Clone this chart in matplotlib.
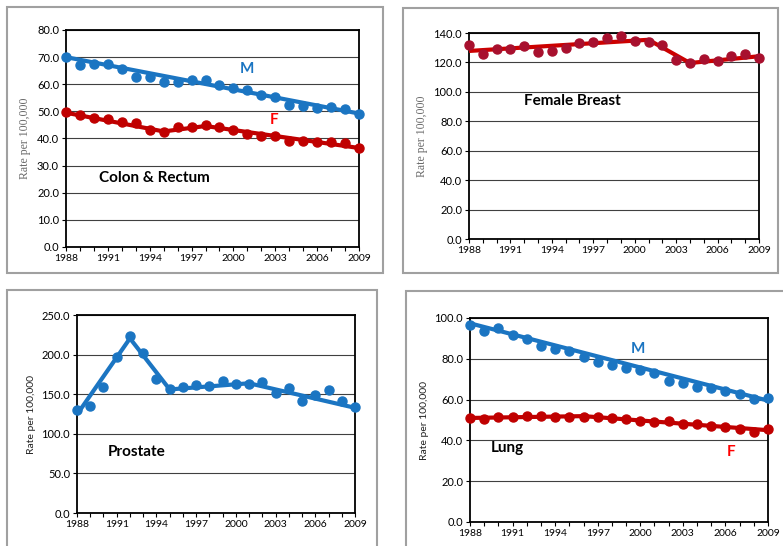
import numpy as np
import matplotlib.pyplot as plt
from matplotlib.patches import Rectangle

plt.rcParams['font.family'] = ['Lato', 'DejaVu Sans']

years = np.arange(1988, 2010)

# colon & rectum
colon_m = [70.2, 67.0, 67.5, 67.5, 65.7, 62.5, 62.8, 60.8, 61.0, 61.5, 61.5,
           59.8, 58.5, 58.0, 56.2, 55.2, 52.2, 52.0, 51.2, 51.5, 51.0, 49.0]
colon_f = [49.7, 48.8, 47.5, 47.2, 46.0, 45.8, 43.2, 42.3, 44.3, 44.1, 45.0,
           44.3, 43.0, 41.5, 41.0, 40.8, 39.2, 39.2, 38.6, 38.8, 38.5, 36.5]
colon_m_fit_x = [1988, 2009]
colon_m_fit_y = [70.0, 49.2]
colon_f_fit_x = [1988, 1995, 1998, 2009]
colon_f_fit_y = [49.5, 42.6, 44.6, 36.5]

# female breast
breast = [132.1, 126.0, 129.3, 129.3, 131.2, 126.9, 127.5, 129.8, 133.2, 133.6, 136.6,
          137.7, 134.3, 133.6, 131.8, 121.9, 119.9, 122.1, 120.8, 124.2, 125.5, 123.0]
breast_fit_x = [1988, 2001, 2004, 2009]
breast_fit_y = [127.8, 135.4, 119.6, 124.2]

# prostate
prostate = [129.5, 135.4, 159.0, 197.4, 223.5, 202.4, 169.5, 156.8, 158.5, 161.5, 160.2,
            166.1, 162.7, 163.2, 165.7, 150.9, 157.3, 141.7, 148.8, 154.7, 140.8, 133.6]
prostate_fit_x = [1988, 1992, 1995, 2001, 2009]
prostate_fit_y = [124.4, 220.5, 156.0, 163.8, 132.8]

# lung
lung_m = [96.5, 93.8, 95.2, 91.6, 89.5, 86.2, 84.9, 84.0, 81.1, 78.6, 77.0,
          75.5, 74.7, 73.0, 69.2, 67.9, 66.3, 65.8, 64.3, 62.8, 60.5, 60.9]
lung_f = [51.2, 50.7, 51.6, 51.6, 52.1, 52.1, 51.3, 51.6, 51.6, 51.5, 50.8,
          50.7, 49.7, 49.2, 49.3, 47.9, 47.9, 47.2, 46.7, 45.7, 43.9, 45.6]
lung_m_fit_x = [1988, 2009]
lung_m_fit_y = [97.4, 59.5]
lung_f_fit_x = [1988, 1996, 2009]
lung_f_fit_y = [51.0, 51.9, 45.0]

blue = '#1B75C2'
red = '#C00000'
maroon = '#A8102E'

W, H = 783, 546
fig = plt.figure(figsize=(W / 100, H / 100), dpi=100)

# gray frames round each panel (pixels: left, top, right, bottom)
for l, t, r, b in [(7, 7, 383, 273), (403, 8, 778, 273), (7, 290, 377, 560), (406, 291, 790, 560)]:
    fig.patches.append(Rectangle((l / W, 1 - b / H), (r - l) / W, (b - t) / H,
                                 transform=fig.transFigure, fill=False,
                                 edgecolor='#A0A0A0', linewidth=1.5))


def make_ax(l, t, r, b, ymax, ystep, serif_label):
    ax = fig.add_axes([l / W, 1 - b / H, (r - l) / W, (b - t) / H])
    ax.set_xlim(1988, 2009)
    ax.set_ylim(0, ymax)
    ax.set_xticks(np.arange(1988, 2010, 3))
    ax.set_xticks(years, minor=True)
    ax.set_yticks(np.arange(0, ymax + 0.1, ystep))
    ax.set_yticklabels(['%.1f' % v for v in np.arange(0, ymax + 0.1, ystep)])
    ax.tick_params(axis='x', which='both', direction='out', length=3, width=0.8, labelsize=7.5, pad=2)
    ax.tick_params(axis='y', direction='out', length=3, width=0.8, labelsize=8, pad=2)
    ax.grid(axis='y', color='#404040', linewidth=0.8)
    ax.set_axisbelow(True)
    for s in ax.spines.values():
        s.set_linewidth(1.3)
    if serif_label:
        ax.set_ylabel('Rate per 100,000', family='Liberation Serif', color='#6A6A6A', fontsize=8.5)
    else:
        ax.set_ylabel('Rate per 100,000', fontsize=7.5, color='#222222')
    return ax


def series(ax, y, fx, fy, mcolor, lcolor):
    ax.plot(fx, fy, color=lcolor, linewidth=3, solid_capstyle='butt', clip_on=False, zorder=3)
    ax.plot(years, y, 'o', color=mcolor, markersize=6.5, clip_on=False, zorder=4)


def label(ax, x, y, s, color='black'):
    ax.text(x, y, s, color=color, fontsize=11, fontweight='bold', ha='center', va='center')


ax1 = make_ax(66, 30, 359, 247, 80, 10, True)
series(ax1, colon_m, colon_m_fit_x, colon_m_fit_y, blue, blue)
series(ax1, colon_f, colon_f_fit_x, colon_f_fit_y, red, red)
label(ax1, 2001.0, 65.6, 'M', blue)
label(ax1, 2002.9, 46.8, 'F', '#FF0000')
label(ax1, 1994.3, 25.4, 'Colon & Rectum')

ax2 = make_ax(469, 33, 759, 239, 140, 20, True)
series(ax2, breast, breast_fit_x, breast_fit_y, maroon, '#CC0000')
label(ax2, 1995.5, 93.8, 'Female Breast')

ax3 = make_ax(77, 315, 355, 513, 250, 50, False)
series(ax3, prostate, prostate_fit_x, prostate_fit_y, blue, blue)
label(ax3, 1992.5, 77.0, 'Prostate')

ax4 = make_ax(470, 318, 768, 522, 100, 20, False)
series(ax4, lung_m, lung_m_fit_x, lung_m_fit_y, blue, blue)
series(ax4, lung_f, lung_f_fit_x, lung_f_fit_y, red, red)
label(ax4, 1999.8, 84.8, 'M', blue)
label(ax4, 2006.4, 34.3, 'F', '#FF0000')
label(ax4, 1990.6, 36.3, 'Lung')

fig.savefig('out.png', dpi=100)
